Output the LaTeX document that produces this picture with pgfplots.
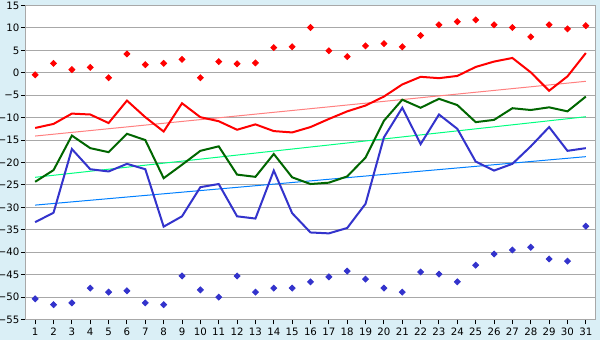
\documentclass[border=0pt]{standalone}
\usepackage{pgfplots}
\pgfplotsset{compat=1.18}
\usepackage{fontspec}
\setmainfont{DejaVu Sans}
\definecolor{bgblue}{HTML}{DAEFF6}
\definecolor{gridgrey}{HTML}{A8A8A8}
\definecolor{tred}{HTML}{FF8080}
\definecolor{tgreen}{HTML}{00FF80}
\definecolor{tblue}{HTML}{0080FF}
\definecolor{dgreen}{HTML}{006600}
\definecolor{lblue}{HTML}{3333CC}
\begin{document}
\begin{tikzpicture}
\useasboundingbox (0,0) rectangle (300pt,170pt);
\fill[bgblue] (0,0) rectangle (300pt,170pt);
\begin{axis}[
  at={(13pt,10.25pt)}, anchor=south west,
  scale only axis, width=284.5pt, height=157pt,
  xmin=0.5, xmax=31.5, ymin=-55, ymax=15,
  axis background/.style={fill=white},
  xtick={1,...,31}, ytick={-55,-50,...,15},
  yticklabels={−55,−50,−45,−40,−35,−30,−25,−20,−15,−10,−5,0,5,10,15},
  ymajorgrids, grid style={gridgrey, line width=0.5pt},
  axis line style={gridgrey, line width=0.5pt},
  tick style={black, line width=0.5pt},
  major tick length=2.5pt, tick align=outside,
  xtick pos=bottom, ytick pos=left,
  ticklabel style={font=\fontsize{5.1}{6}\selectfont, black, inner sep=0.6pt},
  xticklabel style={yshift=-1pt},
  /pgf/number format/assume math mode=true,
  clip=false,
]
% trend lines
\addplot[tred, line width=0.5pt] coordinates {(1,-14.1) (31,-1.9)};
\addplot[tgreen, line width=0.5pt] coordinates {(1,-23.3) (31,-9.8)};
\addplot[tblue, line width=0.5pt] coordinates {(1,-29.5) (31,-18.7)};
% red line
\addplot[red, line width=1pt] coordinates {
(1,-12.3)(2,-11.4)(3,-9.1)(4,-9.3)(5,-11.2)(6,-6.2)(7,-9.9)(8,-13.1)(9,-6.8)(10,-9.9)
(11,-10.8)(12,-12.7)(13,-11.5)(14,-13.0)(15,-13.3)(16,-12.1)(17,-10.3)(18,-8.6)(19,-7.3)(20,-5.3)
(21,-2.6)(22,-0.9)(23,-1.2)(24,-0.7)(25,1.3)(26,2.5)(27,3.3)(28,0.1)(29,-4.0)(30,-0.8)(31,4.4)};
% green line
\addplot[dgreen, line width=1pt] coordinates {
(1,-24.3)(2,-21.7)(3,-14.0)(4,-16.8)(5,-17.7)(6,-13.6)(7,-15.0)(8,-23.5)(9,-20.5)(10,-17.4)
(11,-16.4)(12,-22.7)(13,-23.2)(14,-18.1)(15,-23.3)(16,-24.8)(17,-24.5)(18,-23.1)(19,-18.9)(20,-10.7)
(21,-6.0)(22,-7.8)(23,-5.8)(24,-7.2)(25,-11.0)(26,-10.5)(27,-7.9)(28,-8.3)(29,-7.7)(30,-8.6)(31,-5.3)};
% blue line
\addplot[lblue, line width=1pt] coordinates {
(1,-33.3)(2,-31.2)(3,-17.0)(4,-21.5)(5,-22.0)(6,-20.3)(7,-21.5)(8,-34.3)(9,-32.0)(10,-25.5)
(11,-24.8)(12,-32.0)(13,-32.5)(14,-21.8)(15,-31.3)(16,-35.6)(17,-35.8)(18,-34.6)(19,-29.2)(20,-14.4)
(21,-7.8)(22,-15.9)(23,-9.3)(24,-12.5)(25,-19.8)(26,-21.8)(27,-20.3)(28,-16.4)(29,-12.1)(30,-17.4)(31,-16.8)};
% max markers
\addplot[only marks, mark=square*, mark size=1.05pt, red, mark options={fill=red, rotate=45}] coordinates {
(1,-0.45)(2,2.1)(3,0.7)(4,1.2)(5,-1.1)(6,4.2)(7,1.8)(8,2.1)(9,3.0)(10,-1.1)
(11,2.5)(12,2.0)(13,2.2)(14,5.6)(15,5.8)(16,10.1)(17,4.9)(18,3.6)(19,6.0)(20,6.5)
(21,5.8)(22,8.3)(23,10.7)(24,11.4)(25,11.8)(26,10.7)(27,10.1)(28,8.0)(29,10.7)(30,9.8)(31,10.5)};
% min markers
\addplot[only marks, mark=square*, mark size=1.05pt, lblue, mark options={fill=lblue, rotate=45}] coordinates {
(1,-50.4)(2,-51.7)(3,-51.3)(4,-48.0)(5,-48.9)(6,-48.6)(7,-51.3)(8,-51.7)(9,-45.3)(10,-48.4)
(11,-50.0)(12,-45.3)(13,-48.9)(14,-48.0)(15,-48.0)(16,-46.6)(17,-45.5)(18,-44.2)(19,-46.0)(20,-48.0)
(21,-48.9)(22,-44.4)(23,-44.9)(24,-46.6)(25,-42.9)(26,-40.4)(27,-39.5)(28,-38.9)(29,-41.5)(30,-42.0)(31,-34.2)};
\end{axis}
\end{tikzpicture}
\end{document}
